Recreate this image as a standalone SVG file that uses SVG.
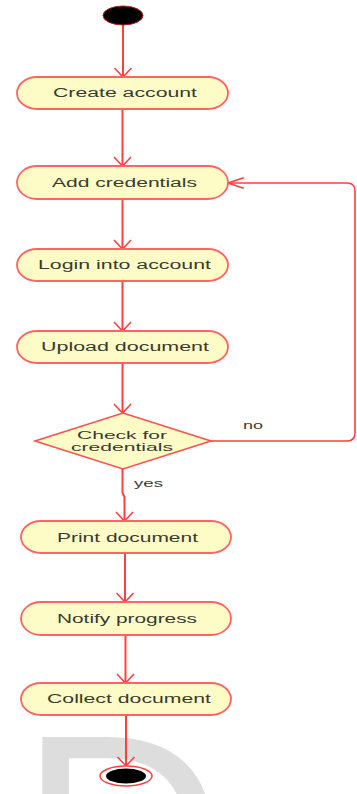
<svg xmlns="http://www.w3.org/2000/svg" width="357" height="794" viewBox="0 0 357 794">
  <style>
    .act { fill: #fdfbc6; stroke: #ff6464; stroke-width: 1.8; }
    .dec { fill: #fdfbc6; stroke: #ff5050; stroke-width: 1.6; }
    .lbl { font-family: "Liberation Sans", Arial, sans-serif; font-size: 12.5px; fill: #3a3a30; }
    .small { font-family: "Liberation Sans", Arial, sans-serif; font-size: 11px; fill: #3a3a30; }
    .edge { fill: none; stroke: #ff4040; stroke-width: 2; }
    .head { fill: none; stroke: #ff4040; stroke-width: 1.6; stroke-linejoin: miter; }
    .wm { font-family: "Liberation Sans", Arial, sans-serif; font-size: 285px; fill: #dddddd; }
  </style>
  <defs>
    <marker id="arrowV" markerUnits="userSpaceOnUse" orient="auto" markerWidth="20" markerHeight="20" viewBox="-12 -10 14 20" refX="0" refY="0" overflow="visible">
      <path class="head" d="M-9,-8.5 L0,0 L-9,8.5"/>
    </marker>
    <marker id="arrowH" markerUnits="userSpaceOnUse" orient="auto" markerWidth="20" markerHeight="20" viewBox="-17 -7 19 14" refX="0" refY="0" overflow="visible">
      <path class="head" d="M-15,-5 L0,0 L-15,5"/>
    </marker>
  </defs>

  <rect width="357" height="794" fill="#ffffff"/>

  <!-- watermark letter, running off the bottom edge -->
  <text class="wm" x="19" y="933">D</text>

  <!-- connectors -->
  <g id="connectors">
    <path class="edge" d="M123,25 L123,77" marker-end="url(#arrowV)"/>
    <path class="edge" d="M122.5,109 L122.5,166" marker-end="url(#arrowV)"/>
    <path class="edge" d="M122.5,199 L122.5,249" marker-end="url(#arrowV)"/>
    <path class="edge" d="M122.5,281 L122.5,331" marker-end="url(#arrowV)"/>
    <path class="edge" d="M122.5,363 L122.5,413" marker-end="url(#arrowV)"/>
    <path class="edge" d="M122.5,469 L122.5,493 L124.5,497 L124.5,521" marker-end="url(#arrowV)"/>
    <path class="edge" d="M125,553 L125,602" marker-end="url(#arrowV)"/>
    <path class="edge" d="M125.5,635 L125.5,683" marker-end="url(#arrowV)"/>
    <path class="edge" d="M126,715 L126,766" marker-end="url(#arrowV)"/>
    <path class="edge" style="stroke-width:1.6" d="M211,441 L347,441 Q355,441 355,433 L355,191 Q355,183 347,183 L228,183" marker-end="url(#arrowH)"/>
    <text class="small" x="243" y="429" textLength="20" lengthAdjust="spacingAndGlyphs">no</text>
    <text class="small" x="134" y="487" textLength="29" lengthAdjust="spacingAndGlyphs">yes</text>
  </g>

  <!-- initial node -->
  <g id="start">
    <ellipse cx="123" cy="15.5" rx="20" ry="9.5" fill="#000000" stroke="#b02020" stroke-width="1"/>
  </g>

  <g id="create-account">
    <rect class="act" x="17" y="77" width="211" height="32" rx="20" ry="16"/>
    <text class="lbl" x="53" y="97" textLength="144" lengthAdjust="spacingAndGlyphs">Create account</text>
  </g>

  <g id="add-credentials">
    <rect class="act" x="17" y="166" width="211" height="33" rx="20" ry="16.5"/>
    <text class="lbl" x="52" y="187" textLength="145" lengthAdjust="spacingAndGlyphs">Add credentials</text>
  </g>

  <g id="login">
    <rect class="act" x="17" y="249" width="211" height="32" rx="20" ry="16"/>
    <text class="lbl" x="38" y="269" textLength="173" lengthAdjust="spacingAndGlyphs">Login into account</text>
  </g>

  <g id="upload-document">
    <rect class="act" x="17" y="331" width="211" height="32" rx="20" ry="16"/>
    <text class="lbl" x="41" y="351" textLength="168" lengthAdjust="spacingAndGlyphs">Upload document</text>
  </g>

  <g id="check-credentials">
    <polygon class="dec" points="123,413 211,441 123,469 35,441"/>
    <text class="small" x="77" y="439" textLength="90" lengthAdjust="spacingAndGlyphs">Check for</text>
    <text class="small" x="71" y="451" textLength="102" lengthAdjust="spacingAndGlyphs">credentials</text>
  </g>

  <g id="print-document">
    <rect class="act" x="21" y="521" width="210" height="32" rx="20" ry="16"/>
    <text class="lbl" x="57" y="542" textLength="141" lengthAdjust="spacingAndGlyphs">Print document</text>
  </g>

  <g id="notify-progress">
    <rect class="act" x="21" y="602" width="210" height="33" rx="20" ry="16.5"/>
    <text class="lbl" x="57" y="623" textLength="140" lengthAdjust="spacingAndGlyphs">Notify progress</text>
  </g>

  <g id="collect-document">
    <rect class="act" x="21" y="683" width="210" height="32" rx="20" ry="16"/>
    <text class="lbl" x="47" y="703" textLength="164" lengthAdjust="spacingAndGlyphs">Collect document</text>
  </g>

  <!-- final node -->
  <g id="end">
    <ellipse cx="126" cy="776" rx="26" ry="10" fill="#ffffff" stroke="#ff4040" stroke-width="1.5"/>
    <ellipse cx="126" cy="776" rx="20" ry="7.5" fill="#000000"/>
  </g>
</svg>
